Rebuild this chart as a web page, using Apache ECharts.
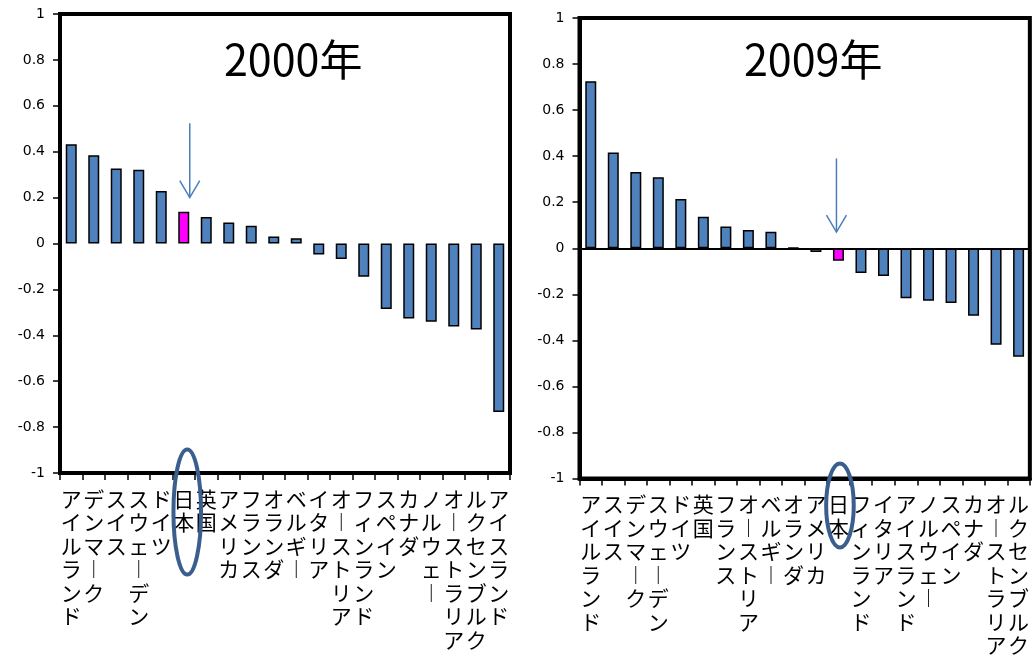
<!DOCTYPE html>
<html>
<head>
<meta charset="utf-8">
<script src="https://cdn.jsdelivr.net/npm/echarts@6/dist/echarts.min.js"></script>
<style>
  html, body { margin: 0; padding: 0; background: #fff; }
  #chart { width: 1032px; height: 657px; }
</style>
</head>
<body>
<div id="chart"></div>
<script>
// 2000年: countries ordered by value
const cats2000 = ['アイルランド', 'デンマーク', 'スイス', 'スウェーデン', 'ドイツ', '日本', '英国', 'アメリカ', 'フランス', 'オランダ',
  'ベルギー', 'イタリア', 'オーストリア', 'フィンランド', 'スペイン', 'カナダ', 'ノルウェー', 'オーストラリア', 'ルクセンブルク', 'アイスランド'];
const vals2000 = [0.433, 0.385, 0.327, 0.321, 0.229, 0.138, 0.115, 0.092, 0.077, 0.031,
  0.023, -0.048, -0.067, -0.145, -0.285, -0.327, -0.341, -0.362, -0.375, -0.734];

// 2009年
const cats2009 = ['アイルランド', 'スイス', 'デンマーク', 'スウェーデン', 'ドイツ', '英国', 'フランス', 'オーストリア', 'ベルギー', 'オランダ',
  'アメリカ', '日本', 'フィンランド', 'イタリア', 'アイスランド', 'ノルウェー', 'スペイン', 'カナダ', 'オーストラリア', 'ルクセンブルク'];
const vals2009 = [0.725, 0.416, 0.331, 0.308, 0.214, 0.137, 0.094, 0.079, 0.072, 0.002,
  -0.016, -0.054, -0.108, -0.120, -0.217, -0.228, -0.238, -0.293, -0.419, -0.471];

const yTicks = { min: -1, max: 1, interval: 0.2 };
const titles = ['2000年', '2009年'];
const focus = '日本';

const BAR = '#4F81BD';
const FOCUS = '#FF00FF';
const MARK = '#3A5F8E';
const ARROW = '#4A7EBB';

// category names are written top-to-bottom, one character per line
const vertical = s => s.split('').map(c => (c === 'ー' ? '︱' : c)).join('\n');

function barData(cats, vals) {
  return vals.map((v, i) => ({
    value: v,
    itemStyle: cats[i] === focus ? { color: FOCUS } : undefined
  }));
}

function xAxisCfg(gridIndex, cats) {
  return {
    type: 'category', gridIndex, data: cats, position: 'bottom',
    axisLine: { onZero: false, lineStyle: { color: '#000', width: 4 } },
    axisTick: { show: true, length: 7, lineStyle: { color: '#000', width: 1.5 } },
    axisLabel: {
      interval: 0, margin: 14, color: '#000', fontSize: 21, lineHeight: 23.5,
      fontFamily: 'Noto Sans CJK JP', verticalAlign: 'top', formatter: vertical
    }
  };
}

function yAxisCfg(gridIndex) {
  return {
    type: 'value', gridIndex, min: yTicks.min, max: yTicks.max, interval: yTicks.interval,
    axisLine: { show: true, lineStyle: { color: '#000', width: 4 } },
    axisTick: { show: true, length: 7, lineStyle: { color: '#000', width: 1.5 } },
    axisLabel: { margin: 15, color: '#000', fontSize: 14, fontFamily: 'DejaVu Sans' },
    splitLine: { show: false }
  };
}

const chart = echarts.init(document.getElementById('chart'), null, { renderer: 'canvas' });

const titleStyle = { fontSize: 43, fontWeight: 'normal', fontFamily: 'Noto Sans CJK JP', color: '#000' };

chart.setOption({
  animation: false,
  backgroundColor: '#fff',
  title: [
    { text: titles[0], left: 224, top: 38, padding: 0, textStyle: titleStyle },
    { text: titles[1], left: 744, top: 38, padding: 0, textStyle: titleStyle }
  ],
  grid: [
    { left: 60, top: 14, width: 450, height: 459 },
    { left: 579.5, top: 18, width: 454, height: 461 }
  ],
  xAxis: [xAxisCfg(0, cats2000), xAxisCfg(1, cats2009)],
  yAxis: [yAxisCfg(0), yAxisCfg(1)],
  series: [
    {
      type: 'bar', xAxisIndex: 0, yAxisIndex: 0, barWidth: 11,
      itemStyle: { color: BAR, borderColor: '#000', borderWidth: 1.5 },
      data: barData(cats2000, vals2000)
    },
    {
      type: 'bar', xAxisIndex: 1, yAxisIndex: 1, barWidth: 11,
      itemStyle: { color: BAR, borderColor: '#000', borderWidth: 1.5 },
      data: barData(cats2009, vals2009),
      markLine: {
        silent: true, symbol: ['none', 'none'], label: { show: false },
        lineStyle: { color: '#000', width: 2, type: 'solid' },
        data: [{ yAxis: 0 }]
      }
    }
  ]
});

// thick frame round each plot area (band edges come from first/last category centres)
function frame(seriesIndex, n) {
  const a = chart.convertToPixel({ seriesIndex }, [0, yTicks.max]);
  const b = chart.convertToPixel({ seriesIndex }, [n - 1, yTicks.min]);
  const half = (b[0] - a[0]) / (n - 1) / 2;
  return {
    type: 'rect', z: 90, silent: true,
    shape: { x: a[0] - half, y: a[1], width: b[0] - a[0] + 2 * half, height: b[1] - a[1] },
    style: { fill: 'none', stroke: '#000', lineWidth: 4 }
  };
}

// Arrow pointing at the 日本 bar and an ellipse ringing its axis label
function callout(seriesIndex, cats, arrowFrom, arrowTo, arrowDx, ellDx, ellDy, ry) {
  const idx = cats.indexOf(focus);
  const top = chart.convertToPixel({ seriesIndex }, [idx, arrowFrom]);
  const tip = chart.convertToPixel({ seriesIndex }, [idx, arrowTo]);
  const base = chart.convertToPixel({ seriesIndex }, [idx, yTicks.min]);
  const x = top[0] + arrowDx;
  return [
    {
      type: 'line', z: 100,
      shape: { x1: x, y1: top[1], x2: x, y2: tip[1] },
      style: { stroke: ARROW, lineWidth: 1.5 }
    },
    {
      type: 'polyline', z: 100,
      shape: { points: [[x - 10, tip[1] - 17], [x, tip[1]], [x + 10, tip[1] - 17]] },
      style: { stroke: ARROW, lineWidth: 1.5, fill: 'none' }
    },
    {
      type: 'ellipse', z: 100,
      shape: { cx: base[0] + ellDx, cy: base[1] + ellDy, rx: 13.8, ry },
      style: { stroke: MARK, lineWidth: 4, fill: 'none' }
    }
  ];
}

chart.setOption({
  graphic: [
    frame(0, cats2000.length),
    frame(1, cats2009.length),
    ...callout(0, cats2000, 0.524, 0.20, 6, 3.5, 39, 62.5),
    ...callout(1, cats2009, 0.39, 0.07, -2, 1.5, 27, 42)
  ]
});
</script>
</body>
</html>
